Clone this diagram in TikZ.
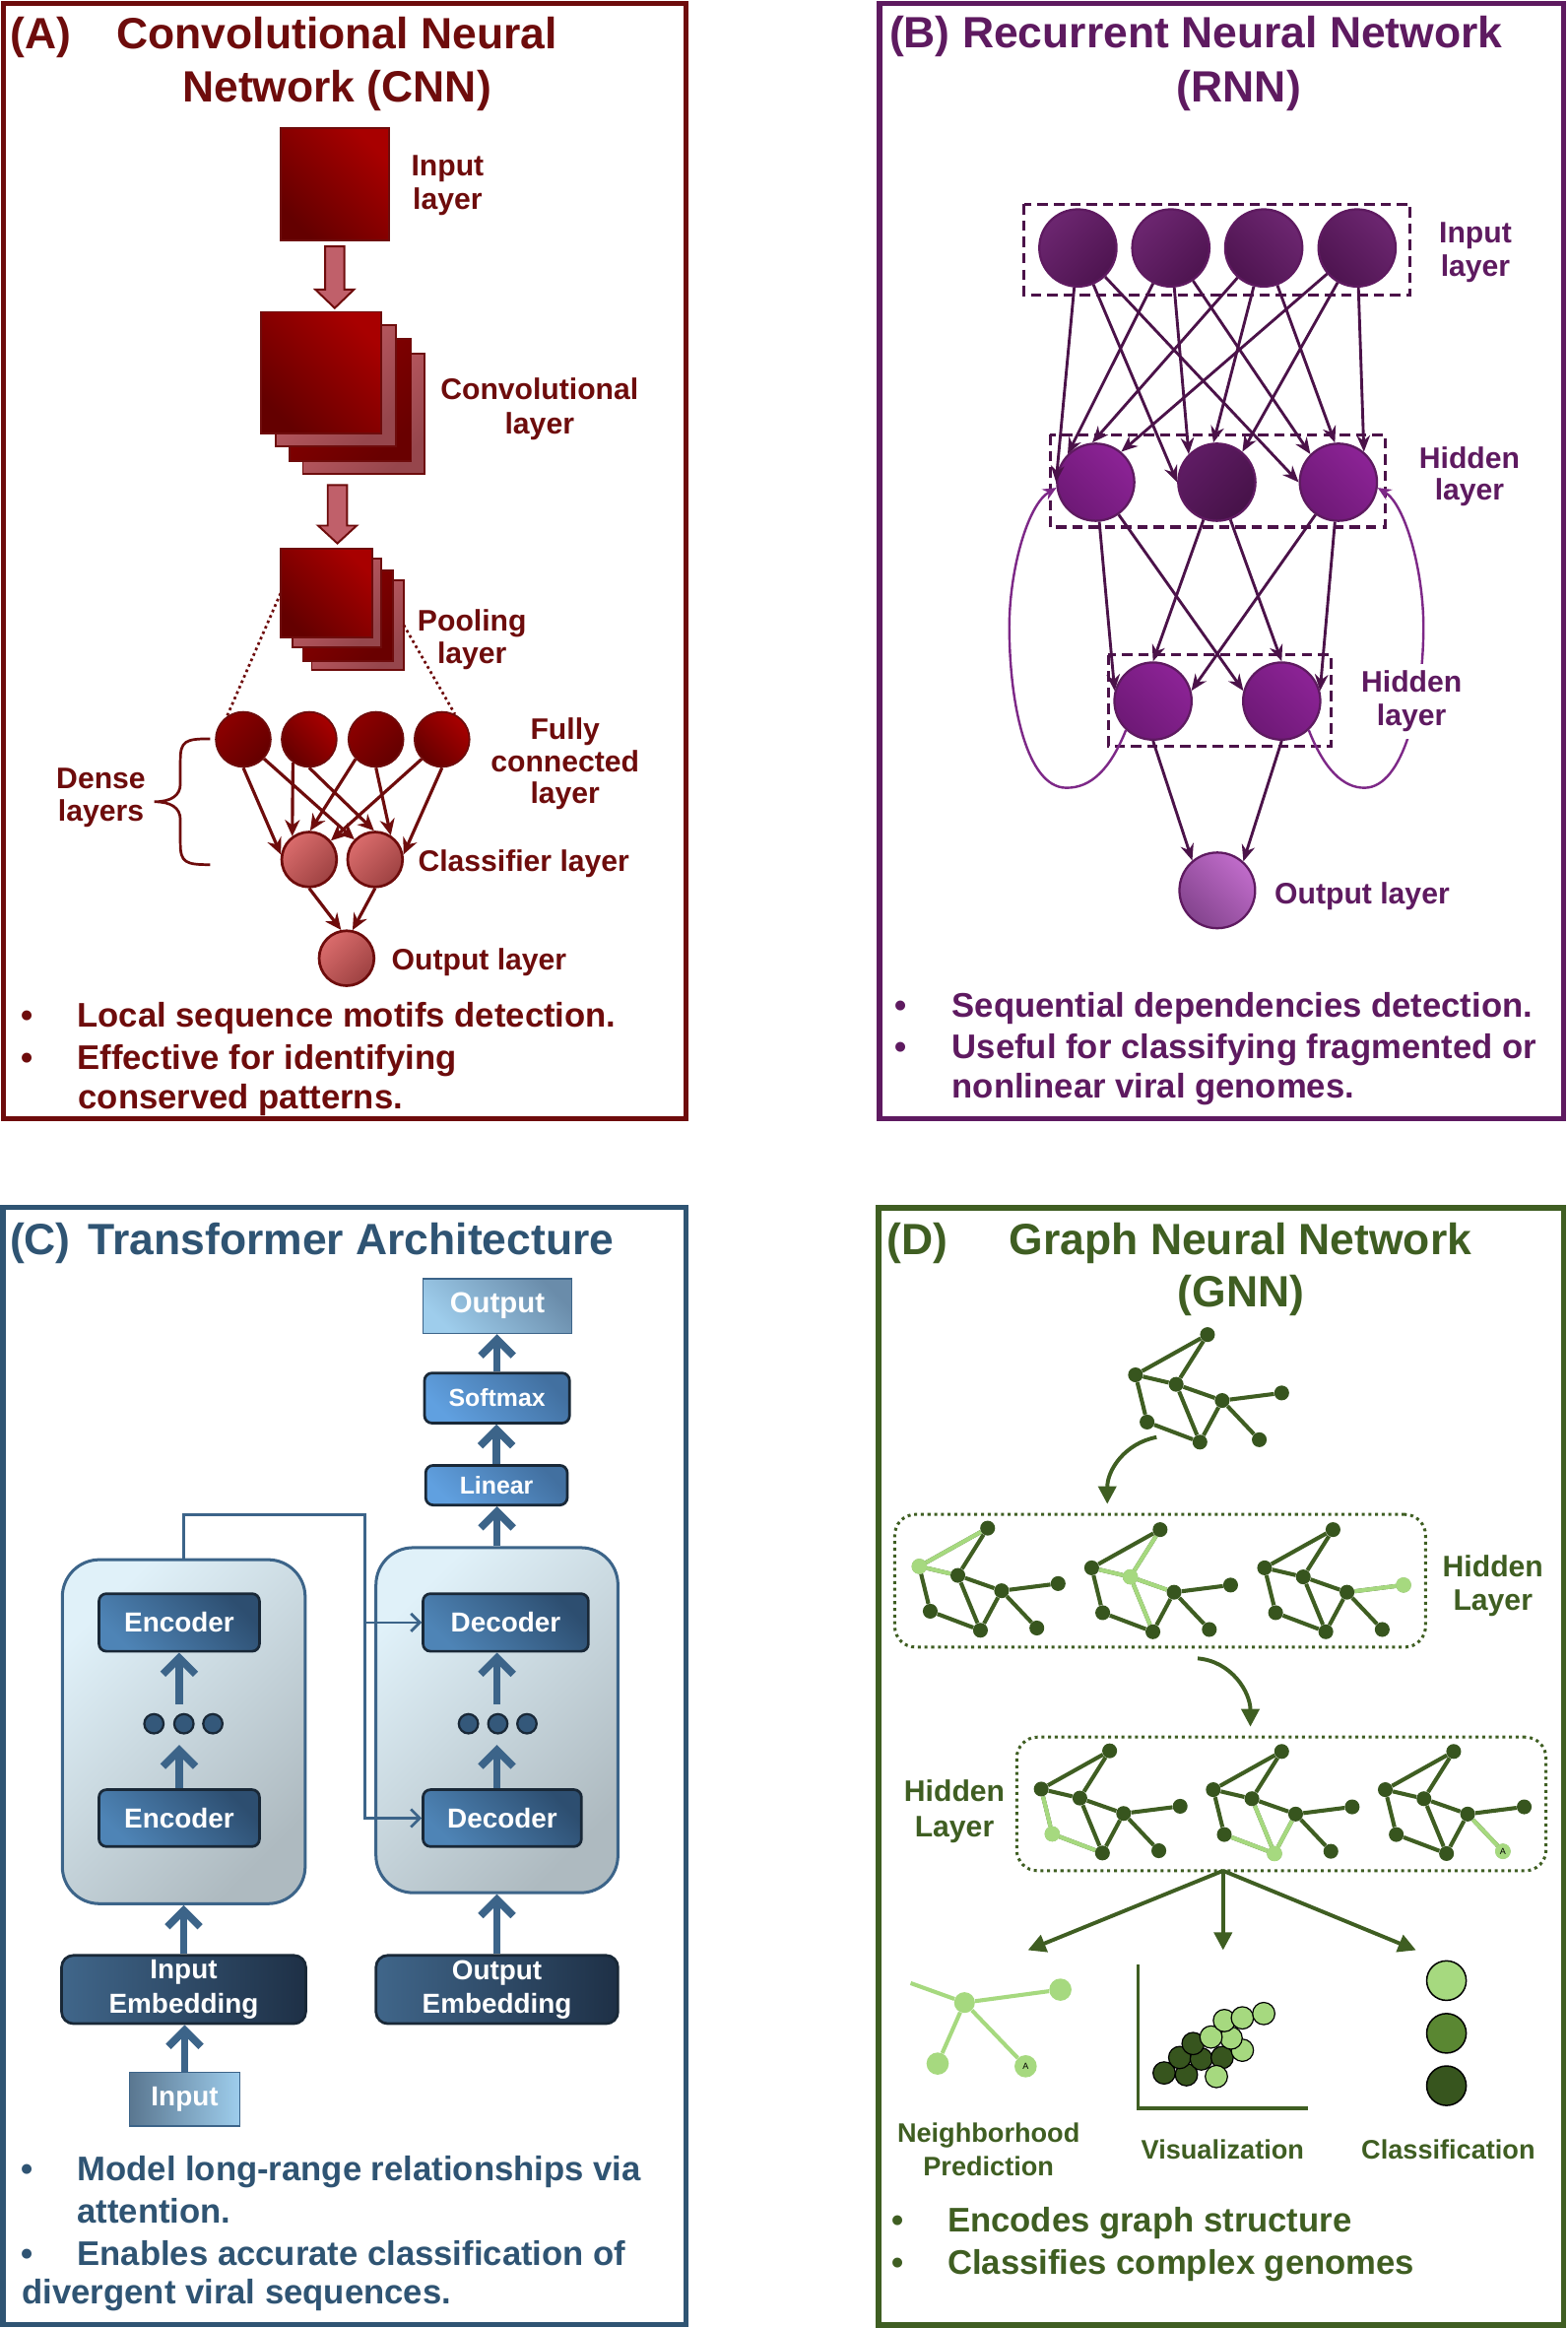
\documentclass[tikz,border=0pt]{standalone}
\usepackage{fontspec}
\setmainfont{Liberation Sans}
\usetikzlibrary{arrows.meta,calc}
\definecolor{aRed}{RGB}{110,12,12}
\definecolor{aBright}{RGB}{168,0,0}
\definecolor{aDark}{RGB}{100,0,0}
\definecolor{aMidD}{RGB}{140,0,0}
\definecolor{aMidD2}{RGB}{105,0,0}
\definecolor{aPink}{RGB}{200,96,104}
\definecolor{aPinkD}{RGB}{150,70,76}
\definecolor{aBlk}{RGB}{192,96,106}
\definecolor{aCl1}{RGB}{218,108,108}
\definecolor{aCl2}{RGB}{158,66,66}
\definecolor{bPur}{RGB}{94,26,96}
\definecolor{bArr}{RGB}{75,18,73}
\definecolor{bLoop}{RGB}{125,40,135}
\definecolor{bIn1}{RGB}{108,38,112}
\definecolor{bIn2}{RGB}{78,20,80}
\definecolor{bHi1}{RGB}{140,35,150}
\definecolor{bHi2}{RGB}{110,25,118}
\definecolor{bMid1}{RGB}{95,28,100}
\definecolor{bMid2}{RGB}{70,18,72}
\definecolor{bOut1}{RGB}{192,108,202}
\definecolor{bOut2}{RGB}{132,68,142}
\definecolor{cBlu}{RGB}{47,84,115}
\definecolor{cLine}{RGB}{60,100,137}
\definecolor{cNavy}{RGB}{25,40,55}
\definecolor{cBoxD}{RGB}{45,78,112}
\definecolor{cBoxL}{RGB}{78,132,182}
\definecolor{cSmD}{RGB}{66,112,160}
\definecolor{cSmL}{RGB}{96,160,224}
\definecolor{cEmL}{RGB}{64,102,138}
\definecolor{cEmD}{RGB}{30,48,70}
\definecolor{cOutD}{RGB}{106,140,170}
\definecolor{cOutL}{RGB}{158,205,236}
\definecolor{cCon1}{RGB}{224,241,249}
\definecolor{cCon2}{RGB}{174,186,192}
\definecolor{cDot}{RGB}{52,88,122}
\definecolor{dGrn}{RGB}{63,94,34}
\definecolor{dNode}{RGB}{55,85,30}
\definecolor{lGrn}{RGB}{166,217,127}
\definecolor{mGrn}{RGB}{90,135,50}

\newcommand\fTitle{\fontsize{29.5}{35}\selectfont\bfseries}
\newcommand\fLab{\fontsize{20}{23}\selectfont\bfseries}
\newcommand\fBul{\fontsize{23}{28}\selectfont\bfseries}
\newcommand\fBoxL{\fontsize{18.5}{22.7}\selectfont\bfseries}
\newcommand\fBoxO{\fontsize{19.5}{23}\selectfont\bfseries}
\newcommand\fBoxS{\fontsize{16.5}{20}\selectfont\bfseries}
\newcommand\fGl{\fontsize{18}{22}\selectfont\bfseries}
\newcommand\fTiny{\fontsize{6}{6}\selectfont}

\newcommand\gnnGraph[4]{%
  \begin{scope}[shift={(#2,#3)},scale=#4]
    \node[gdot] (#1-1) at (48.5,-27.1) {};
    \node[gdot] (#1-2) at (0,0) {};
    \node[gdot] (#1-3) at (27.4,6.4) {};
    \node[gdot] (#1-4) at (58.4,17.3) {};
    \node[gdot] (#1-5) at (98.5,12.2) {};
    \node[gdot] (#1-6) at (7.8,31.8) {};
    \node[gdot] (#1-7) at (43.4,45.3) {};
    \node[gdot] (#1-8) at (83.4,43.7) {};
  \end{scope}
  \foreach \pA/\pB in {1/2,1/3,2/3,2/6,3/4,3/7,4/5,4/7,4/8,6/7}{\draw[gedge] (#1-\pA) -- (#1-\pB);}
}

\begin{document}
\begin{tikzpicture}[x=1pt,y=-1pt,
  txt/.style={inner sep=0pt,anchor=base},
  txtl/.style={inner sep=0pt,anchor=base west},
  sqA/.style={rectangle,inner sep=0pt,outer sep=0pt,draw=aRed,line width=1.2,top color=aBright,bottom color=aDark,shading angle=-45},
  sqP/.style={rectangle,inner sep=0pt,outer sep=0pt,draw=aRed,line width=1.2,top color=aPink,bottom color=aPinkD,shading angle=45},
  sqD/.style={rectangle,inner sep=0pt,outer sep=0pt,draw=aRed,line width=1.2,top color=aMidD,bottom color=aMidD2,shading angle=45},
  ablk/.style={draw=aRed,line width=1.3,fill=aBlk},
  fcc/.style={circle,inner sep=0pt,minimum size=37,draw=aRed,line width=1.2,top color=aBright,bottom color=aDark,shading angle=-45},
  fcd/.style={circle,inner sep=0pt,minimum size=37,draw=aRed,line width=1.2,top color=aMidD,bottom color=aDark,shading angle=45},
  clc/.style={circle,inner sep=0pt,minimum size=37,draw=aRed,line width=1.8,top color=aCl1,bottom color=aCl2,shading angle=45},
  aarr/.style={draw=aRed,line width=2.1,-{Stealth[length=11pt,width=10pt]}},
  adot/.style={draw=aRed,line width=1.8,dash pattern=on 1.8pt off 2.2pt},
  bcirc/.style={circle,inner sep=0pt,minimum size=52,draw=bPur,line width=1.5},
  bdash/.style={draw=bArr,line width=2,dash pattern=on 7pt off 4pt},
  barr/.style={draw=bArr,line width=1.9,-{Stealth[length=11pt,width=9pt]}},
  bloop/.style={draw=bLoop,line width=1.6,-{Stealth[length=9pt,width=8pt]}},
  cbox/.style={rectangle,rounded corners=5,draw=cNavy,line width=1.8,inner sep=0pt,text=white},
  cont/.style={rectangle,rounded corners=25,draw=cLine,line width=2,top color=cCon1,bottom color=cCon2,shading angle=45,inner sep=0pt},
  cdot/.style={circle,inner sep=0pt,minimum size=13,fill=cDot,draw=cNavy,line width=1.5},
  carr/.style={draw=cLine,line width=5,-{Straight Barb[length=11pt,width=22pt]}},
  cthin/.style={draw=cLine,line width=1.8,-{Straight Barb[length=6pt,width=12pt]}},
  gdot/.style={circle,inner sep=0pt,minimum size=10,fill=dNode},
  gedge/.style={draw=dGrn,line width=2.7},
  gedgeL/.style={draw=lGrn,line width=2.7},
  hidbox/.style={rectangle,draw=dGrn,line width=2,dash pattern=on 2pt off 2.5pt,rounded corners=14,inner sep=0pt},
  garr/.style={draw=dGrn,line width=2.6,-{Triangle[length=12pt,width=12pt]}},
  ldot/.style={circle,inner sep=0pt,minimum size=15,fill=lGrn},
]
\useasboundingbox (0,0) rectangle (1056,1568);
\fill[white] (0,0) rectangle (1056,1568);

% ---------------- frames
\draw[aRed,line width=3.6] (2.5,2.5) rectangle (462,753.5);
\draw[bPur,line width=3.6] (592.5,2.5) rectangle (1053.5,753.5);
\draw[cBlu,line width=3.6] (2,813) rectangle (462,1565.5);
\draw[dGrn,line width=3.6] (592,813.5) rectangle (1053.5,1566);

% ================= PANEL A
\node[txtl,text=aRed] (aT0) at (7,33) {\fTitle (A)};
\node[txt,text=aRed] (aT1) at (227,33) {\fTitle Convolutional Neural};
\node[txt,text=aRed] (aT2) at (227,68.7) {\fTitle Network (CNN)};

\node[sqA,minimum width=73,minimum height=75.2] (inSq) at (225.5,124.1) {};
\draw[ablk] (inSq.south) ++(-6.5,4.3) -- ++(0,29) -- ++(-6.5,0) -- ++(13,12.5) -- ++(13,-12.5) -- ++(-6.5,0) -- ++(0,-29) -- cycle;

\node[sqP,minimum width=82,minimum height=81] (cv4) at (245,278.5) {};
\node[sqD,minimum width=82,minimum height=82.6] (cv3) at (236,269.3) {};
\node[sqP,minimum width=81,minimum height=81.6] (cv2) at (226.5,259.8) {};
\node[sqA,minimum width=81,minimum height=82] (cv1) at (216.5,251) {};

\draw[ablk] (inSq.south |- cv4.south) ++(-4.7,7.7) -- ++(0,27.3) -- ++(-6.5,0) -- ++(13,12) -- ++(13,-12) -- ++(-6.5,0) -- ++(0,-27.3) -- cycle;

\node[sqP,minimum width=62,minimum height=60] (pl4) at (241,421) {};
\node[sqD,minimum width=60.6,minimum height=61] (pl3) at (234.3,414.5) {};
\node[sqP,minimum width=60,minimum height=60] (pl2) at (227,406) {};
\node[sqA,minimum width=62,minimum height=59.7] (pl1) at (220,399.65) {};

\node[fcd] (fc1) at (163.9,498) {};
\node[fcc] (fc2) at (208.3,498) {};
\node[fcd] (fc3) at (253.3,498) {};
\node[fcc] (fc4) at (297.8,498) {};
\node[clc] (cl1) at (208.3,578.9) {};
\node[clc] (cl2) at (252.7,578.9) {};
\node[clc] (outA) at (233.5,645.4) {};

\draw[adot] (pl1.west) -- (fc1.125);
\draw[adot] (pl4.east) -- (fc4.63);

\draw[aarr] (fc1.south) -- (cl1.170);
\draw[aarr] (fc1.-43) -- (cl2.136);
\draw[aarr] (fc2.-125) -- (cl1.126);
\draw[aarr] (fc2.south) -- (cl2.92);
\draw[aarr] (fc3.-136) -- (cl1.88);
\draw[aarr] (fc3.south) -- (cl2.57);
\draw[aarr] (fc4.-136) -- (cl1.41);
\draw[aarr] (fc4.south) -- (cl2.10);
\draw[aarr] (cl1.south) -- (outA.101);
\draw[aarr] (cl2.south) -- (outA.78);

\draw[aRed,line width=1.8] (141.6,497.6) .. controls (125,497.6) and (121.5,499) .. (121.5,512) -- (121.5,528) .. controls (121.5,536) and (115,540) .. (104,540) .. controls (115,540) and (121.5,544) .. (121.5,552) -- (121.5,568) .. controls (121.5,581) and (125,582.4) .. (141.6,582.4);

\node[txt,text=aRed] (aL1) at (301.5,118.5) {\fLab Input};
\node[txt,text=aRed] (aL2) at (301.5,141) {\fLab layer};
\node[txt,text=aRed] (aL3) at (363.5,269) {\fLab Convolutional};
\node[txt,text=aRed] (aL4) at (363.5,292) {\fLab layer};
\node[txt,text=aRed] (aL5) at (318,425) {\fLab Pooling};
\node[txt,text=aRed] (aL6) at (318,447) {\fLab layer};
\node[txt,text=aRed] (aL7) at (380.7,498) {\fLab Fully};
\node[txt,text=aRed] (aL8) at (380.7,520) {\fLab connected};
\node[txt,text=aRed] (aL9) at (380.7,541) {\fLab layer};
\node[txtl,text=aRed] (aL10) at (281.5,587) {\fLab Classifier layer};
\node[txtl,text=aRed] (aL11) at (263.7,653) {\fLab Output layer};
\node[txt,text=aRed] (aL12) at (68,531) {\fLab Dense};
\node[txt,text=aRed] (aL13) at (68,553) {\fLab layers};

\node[txtl,text=aRed] (aB0) at (13.8,691.6) {\fBul •};
\node[txtl,text=aRed] (aB1) at (51.9,691.6) {\fBul Local sequence motifs detection.};
\node[txtl,text=aRed] (aB2) at (13.8,720.4) {\fBul •};
\node[txtl,text=aRed] (aB3) at (51.9,720.4) {\fBul Effective for identifying};
\node[txtl,text=aRed] (aB4) at (52.7,747) {\fBul conserved patterns.};

% ================= PANEL B
\node[txtl,text=bPur] (bT1) at (599,32) {\fTitle (B) Recurrent Neural Network};
\node[txt,text=bPur] (bT2) at (834.7,68.8) {\fTitle (RNN)};

\draw[bdash] (690,137.5) rectangle (950,199);
\draw[bdash] (707.5,292.8) rectangle (933.3,355);
\draw[bdash] (746.7,441) rectangle (896.6,502.7);

\node[bcirc,top color=bIn1,bottom color=bIn2,shading angle=45] (i1) at (726.2,167) {};
\node[bcirc,top color=bIn1,bottom color=bIn2,shading angle=45] (i2) at (788.8,167) {};
\node[bcirc,top color=bIn1,bottom color=bIn2,shading angle=-45] (i3) at (851.4,167) {};
\node[bcirc,top color=bIn1,bottom color=bIn2,shading angle=-45] (i4) at (914.3,167) {};
\node[bcirc,top color=bHi1,bottom color=bHi2,shading angle=-45] (h1) at (738.2,324.8) {};
\node[bcirc,top color=bMid1,bottom color=bMid2,shading angle=45] (h2) at (819.8,324.8) {};
\node[bcirc,top color=bHi1,bottom color=bHi2,shading angle=-45] (h3) at (901.7,324.8) {};
\node[bcirc,top color=bHi1,bottom color=bHi2,shading angle=-45] (g1) at (776.8,472.2) {};
\node[bcirc,top color=bHi1,bottom color=bHi2,shading angle=-45] (g2) at (863.5,472.2) {};
\node[bcirc,minimum size=51,top color=bOut1,bottom color=bOut2,shading angle=-45] (oB) at (820.1,599.7) {};

\foreach \sA/\aA in {i1/180,i2/135,i3/95,i4/50}{\foreach \tA in {h1,h2,h3}{\draw[barr] (\sA) -- (\tA.\aA);}}
\foreach \sA/\aA in {h1/165,h2/90,h3/15}{\foreach \tA in {g1,g2}{\draw[barr] (\sA) -- (\tA.\aA);}}
\draw[barr] (g1.south) -- (oB.130);
\draw[barr] (g2.south) -- (oB.48);

\draw[bloop] (g1.-133) .. controls (748,518) and (735,531) .. (718,530.6) .. controls (692,530) and (680,475) .. (680,422) .. controls (680,385) and (692,340) .. (h1.188);
\draw[bloop] (g2.-47) .. controls (892,518) and (905,531) .. (919.7,530.6) .. controls (945,530) and (959,475) .. (959,422) .. controls (959,385) and (947,340) .. (h3.-8);

\node[txt,text=bPur] (bL1) at (994,163.6) {\fLab Input};
\node[txt,text=bPur] (bL2) at (994,186) {\fLab layer};
\node[txt,text=bPur] (bL3) at (990,315.3) {\fLab Hidden};
\node[txt,text=bPur] (bL4) at (990,336.6) {\fLab layer};
\node[txt,text=bPur,fill=white,inner xsep=3pt,inner ysep=4.5pt] (bL5) at (951,466.4) {\fLab Hidden};
\node[txt,text=bPur,fill=white,inner xsep=3pt,inner ysep=4.5pt] (bL6) at (951,489) {\fLab layer};
\node[txtl,text=bPur] (bL7) at (858.6,608.6) {\fLab Output layer};

\node[txtl,text=bPur] (bB0) at (602.7,684.8) {\fBul •};
\node[txtl,text=bPur] (bB1) at (641.3,684.8) {\fBul Sequential dependencies detection.};
\node[txtl,text=bPur] (bB2) at (602.7,712.7) {\fBul •};
\node[txtl,text=bPur] (bB3) at (641.3,712.7) {\fBul Useful for classifying fragmented or};
\node[txtl,text=bPur] (bB4) at (641.3,739.4) {\fBul nonlinear viral genomes.};

% ================= PANEL C
\node[txtl,text=cBlu] (cT0) at (6.5,844.8) {\fTitle (C)};
\node[txtl,text=cBlu] (cT1) at (59.3,844.8) {\fTitle Transformer Architecture};

\node[cont,minimum width=163.6,minimum height=231.7] (encC) at (123.8,1166.35) {};
\node[cont,minimum width=163,minimum height=232.4] (decC) at (334.8,1158.6) {};

\node[rectangle,inner sep=0pt,draw=cLine,line width=1,top color=cOutD,bottom color=cOutL,shading angle=-45,text=white,font=\fBoxO,minimum width=100.2,minimum height=36.8] (outC) at (335.1,879.7) {Output};
\node[cbox,top color=cSmD,bottom color=cSmL,shading angle=-45,font=\fBoxS,minimum width=97.7,minimum height=33.7] (soft) at (334.85,941.65) {Softmax};
\node[cbox,top color=cSmD,bottom color=cSmL,shading angle=-45,font=\fBoxS,minimum width=95.4,minimum height=26.7] (lin) at (334.5,1000.35) {Linear};

\node[cbox,top color=cBoxD,bottom color=cBoxL,shading angle=-45,font=\fBoxL,minimum width=108.1,minimum height=38.8] (enc2) at (120.75,1092.8) {Encoder};
\node[cbox,top color=cBoxD,bottom color=cBoxL,shading angle=-45,font=\fBoxL,minimum width=111.4,minimum height=38.8] (dec2) at (340.7,1092.8) {Decoder};
\node[cbox,top color=cBoxD,bottom color=cBoxL,shading angle=-45,font=\fBoxL,minimum width=108.1,minimum height=38.3] (enc1) at (120.75,1224.55) {Encoder};
\node[cbox,top color=cBoxD,bottom color=cBoxL,shading angle=-45,font=\fBoxL,minimum width=106.7,minimum height=38.3] (dec1) at (338.35,1224.55) {Decoder};

\node[cdot] (ed1) at (103.7,1161) {};
\node[cdot] (ed2) at (123.9,1161) {};
\node[cdot] (ed3) at (143.4,1161) {};
\node[cdot] (dd1) at (315.6,1161) {};
\node[cdot] (dd2) at (335.4,1161) {};
\node[cdot] (dd3) at (355,1161) {};

\node[cbox,left color=cEmL,right color=cEmD,font=\fBoxL,align=center,minimum width=164.5,minimum height=46,rounded corners=8] (inEmb) at (123.75,1340) {Input\\Embedding};
\node[cbox,left color=cEmL,right color=cEmD,font=\fBoxL,align=center,minimum width=163,minimum height=46,rounded corners=8] (outEmb) at (334.8,1340) {Output\\Embedding};
\node[rectangle,inner sep=0pt,draw=cLine,line width=1,left color=cOutD!85!black,right color=cOutL,text=white,font=\fBoxL,minimum width=74.1,minimum height=36.3] (inBox) at (124.45,1413.85) {Input};

\draw[carr] (lin.north) -- (lin.north |- soft.south);
\draw[carr] (soft.north) -- (soft.north |- outC.south);
\draw[carr] (decC.north) -- (decC.north |- lin.south);
\draw[carr] ($(enc2.south |- ed2.north)+(0,-6)$) -- (enc2.south);
\draw[carr] (enc1.north) -- ($(enc1.north |- ed2.south)+(0,7)$);
\draw[carr] ($(decC.center |- dd2.north)+(0,-6)$) -- (decC.center |- dec2.south);
\draw[carr] (decC.center |- dec1.north) -- ($(decC.center |- dd2.south)+(0,7)$);
\draw[carr] (inEmb.north) -- (inEmb.north |- encC.south);
\draw[carr] (outEmb.north) -- (outEmb.north |- decC.south);
\draw[carr] (inBox.north) -- (inBox.north |- inEmb.south);

\coordinate (cj) at (246,1020);
\draw[cthin] (encC.north) |- (cj) -- (cj |- dec1.west) -- (dec1.west);
\draw[cthin] (cj |- dec2.west) -- (dec2.west);

\node[txtl,text=cBlu] (cB0) at (13.8,1469) {\fBul •};
\node[txtl,text=cBlu] (cB1) at (51.9,1469) {\fBul Model long-range relationships via};
\node[txtl,text=cBlu] (cB2) at (51.9,1497.3) {\fBul attention.};
\node[txtl,text=cBlu] (cB3) at (13.8,1525.7) {\fBul •};
\node[txtl,text=cBlu] (cB4) at (51.9,1525.7) {\fBul Enables accurate classification of};
\node[txtl,text=cBlu] (cB5) at (14.8,1551.6) {\fBul divergent viral sequences.};

% ================= PANEL D
\node[txtl,text=dGrn] (dT0) at (597.6,844.8) {\fTitle (D)};
\node[txtl,text=dGrn] (dT1) at (679.8,844.8) {\fTitle Graph Neural Network};
\node[txt,text=dGrn] (dT2) at (836.2,880.3) {\fTitle (GNN)};

\gnnGraph{ga}{765}{926}{1}

\node[hidbox,minimum width=357.6,minimum height=89.4] (hid1) at (781.6,1064.7) {};
\node[hidbox,minimum width=356.6,minimum height=90] (hid2) at (863.3,1215) {};

\gnnGraph{gb}{619.3}{1055}{0.95}
\gnnGraph{gc}{735.5}{1056}{0.95}
\gnnGraph{gd}{852}{1056}{0.95}
\draw[gedgeL] (gb-1) -- (gb-2);
\draw[gedgeL] (gb-2) -- (gb-3);
\fill[lGrn] (gb-2) circle (5.2);
\draw[gedgeL] (gc-1) -- (gc-3);
\draw[gedgeL] (gc-2) -- (gc-3);
\draw[gedgeL] (gc-3) -- (gc-4);
\draw[gedgeL] (gc-3) -- (gc-7);
\fill[lGrn] (gc-3) circle (5.2);
\draw[gedgeL] (gd-4) -- (gd-5);
\fill[lGrn] (gd-5) circle (5.2);

\gnnGraph{ge}{701.5}{1205}{0.95}
\gnnGraph{gf}{817.4}{1205.4}{0.95}
\gnnGraph{gg}{933.3}{1205.4}{0.95}
\draw[gedgeL] (ge-2) -- (ge-6);
\draw[gedgeL] (ge-6) -- (ge-7);
\fill[lGrn] (ge-6) circle (5.2);
\draw[gedgeL] (gf-3) -- (gf-7);
\draw[gedgeL] (gf-4) -- (gf-7);
\draw[gedgeL] (gf-6) -- (gf-7);
\fill[lGrn] (gf-7) circle (5.2);
\draw[gedgeL] (gg-4) -- (gg-8);
\node[circle,inner sep=0pt,minimum size=10.5,fill=lGrn,font=\fTiny] (ggA) at (gg-8) {A};

\coordinate (gs1) at (779.2,968);
\coordinate (ge1) at (746,1013);
\draw[garr] (gs1) .. controls (758,972) and (746,990) .. (ge1);
\coordinate (gs2) at (806.9,1117);
\coordinate (ge2) at (842.4,1163);
\draw[garr] (gs2) .. controls (830,1119) and (842.4,1140) .. (ge2);

\node[txt,text=dGrn] (dL1) at (1005.8,1062) {\fLab Hidden};
\node[txt,text=dGrn] (dL2) at (1005.8,1084.8) {\fLab Layer};
\node[txt,text=dGrn] (dL3) at (643,1213.6) {\fLab Hidden};
\node[txt,text=dGrn] (dL4) at (643,1237) {\fLab Layer};

\coordinate (hs) at (824,1260);
\coordinate (hl) at (692.5,1313.5);
\coordinate (hm) at (824,1313.5);
\coordinate (hr) at (954,1313.5);
\draw[garr] (hs) -- (hl);
\draw[garr] (hs) -- (hm);
\draw[garr] (hs) -- (hr);

% neighborhood
\node[ldot,minimum size=14] (nbC) at (649.8,1348.8) {};
\node[ldot] (nbR) at (714.4,1340.1) {};
\node[ldot] (nbL) at (631.7,1389.9) {};
\node[ldot,font=\fTiny] (nbA) at (691,1391.7) {A};
\coordinate (nbF) at (613.5,1335.7);
\draw[gedgeL] (nbF) -- (nbC);
\draw[gedgeL] (nbC) -- (nbR);
\draw[gedgeL] (nbC) -- (nbL);
\draw[gedgeL] (nbC) -- (nbA);

% visualization
\draw[dGrn,line width=2.5] (766.8,1323.4) -- (766.8,1420) -- (881.5,1420);
\foreach \pt in {(784.3,1396.2),(799.3,1397.4),(794.8,1385.8),(809.3,1386.8),(823.4,1385.8),(803.8,1376.4)}{\draw[fill=dNode,draw=black,line width=0.8] \pt circle (7.5);}
\foreach \pt in {(819.5,1398.6),(837,1380.9),(829.4,1372.7),(815.9,1372),(824.9,1360.9),(837,1359.1),(851.4,1356.2)}{\draw[fill=lGrn,draw=black,line width=0.8] \pt circle (7.5);}

% classification
\draw[fill=lGrn,draw=black,line width=1] (974.5,1334) circle (13.3);
\draw[fill=mGrn,draw=black,line width=1] (974.5,1369.5) circle (13.3);
\draw[fill=dNode,draw=black,line width=1] (974.5,1404.8) circle (13.3);

\node[txt,text=dGrn] (dG1) at (666,1443) {\fGl Neighborhood};
\node[txt,text=dGrn] (dG2) at (666,1465.2) {\fGl Prediction};
\node[txt,text=dGrn] (dG3) at (823.7,1454) {\fGl Visualization};
\node[txt,text=dGrn] (dG4) at (975.7,1454) {\fGl Classification};

\node[txtl,text=dGrn] (dB0) at (600.6,1503.5) {\fBul •};
\node[txtl,text=dGrn] (dB1) at (638.3,1503.5) {\fBul Encodes graph structure};
\node[txtl,text=dGrn] (dB2) at (600.6,1531.9) {\fBul •};
\node[txtl,text=dGrn] (dB3) at (638.3,1531.9) {\fBul Classifies complex genomes};
\end{tikzpicture}
\end{document}
